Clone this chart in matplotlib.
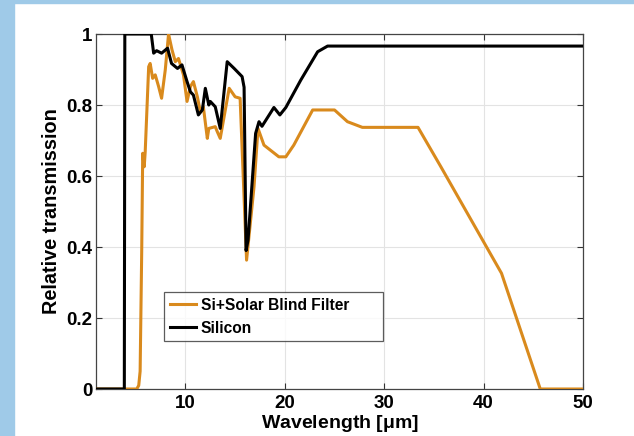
import matplotlib
matplotlib.use("Agg")
import matplotlib.pyplot as plt
from matplotlib.patches import Rectangle

# ── Data ──────────────────────────────────────────────────────────────────────
si_wl = [1.0, 3.85, 3.9, 6.56, 6.8, 7.1, 7.6, 8.2, 8.6, 9.2, 9.65, 10.16, 10.5,
         10.8, 11.3, 11.7, 12.0, 12.35, 12.5, 13.0, 13.5, 14.2, 14.9, 15.7,
         15.9, 16.1, 16.3, 17.06, 17.4, 17.7, 18.9, 19.5, 20.1, 21.6, 23.3,
         24.3, 50.0]
si_tr = [0.0, 0.0, 1.0, 1.0, 0.946, 0.953, 0.946, 0.96, 0.917, 0.903, 0.913,
         0.866, 0.837, 0.828, 0.772, 0.786, 0.847, 0.80, 0.81, 0.795, 0.734,
         0.922, 0.903, 0.88, 0.85, 0.39, 0.42, 0.72, 0.753, 0.74, 0.793,
         0.772, 0.793, 0.87, 0.95, 0.966, 0.966]

filt_wl = [1.0, 5.1, 5.3, 5.44, 5.6, 5.7, 5.85, 5.95, 6.3, 6.45, 6.7, 6.96, 7.3,
           7.6, 7.97, 8.3, 8.65, 8.98, 9.3, 9.8, 10.16, 10.5, 10.8, 11.2, 11.5,
           11.8, 12.2, 12.35, 13.0, 13.2, 13.5, 14.4, 15.0, 15.5, 16.15, 16.9,
           17.3, 17.9, 19.4, 20.1, 20.9, 22.8, 25.0, 26.3, 27.8, 33.4, 35.7,
           41.8, 45.7, 50.0]
filt_tr = [0.0, 0.0, 0.01, 0.05, 0.39, 0.664, 0.626, 0.668, 0.908, 0.917,
           0.875, 0.885, 0.852, 0.819, 0.899, 1.0, 0.955, 0.922, 0.931, 0.885,
           0.81, 0.852, 0.866, 0.823, 0.781, 0.795, 0.706, 0.734, 0.739, 0.725,
           0.706, 0.847, 0.823, 0.819, 0.363, 0.57, 0.734, 0.687, 0.654, 0.654,
           0.687, 0.786, 0.786, 0.753, 0.737, 0.737, 0.626, 0.326, 0.0, 0.0]

x_ticks = [10, 20, 30, 40, 50]
y_ticks = [0, 0.2, 0.4, 0.6, 0.8, 1.0]
y_tick_labels = ["0", "0.2", "0.4", "0.6", "0.8", "1"]

# ── Style ─────────────────────────────────────────────────────────────────────
COLOR_FILTER = "#D98A1D"
COLOR_SI     = "black"
COLOR_STRIP  = "#9FCAE8"
FONT_NAME    = "Liberation Sans"

plt.rcParams["font.family"] = FONT_NAME
plt.rcParams["font.weight"] = "bold"

fig = plt.figure(figsize=(6.34, 4.36), dpi=100)
fig.patches.append(Rectangle((0, 0), 14 / 634, 1, transform=fig.transFigure,
                             color=COLOR_STRIP, zorder=0))
fig.patches.append(Rectangle((0, 1 - 3 / 436), 1, 3 / 436, transform=fig.transFigure,
                             color=COLOR_STRIP, zorder=0))

ax = fig.add_axes([96 / 634, 47 / 436, 487 / 634, 355 / 436])

ax.plot(filt_wl, filt_tr, color=COLOR_FILTER, linewidth=2.2,
        label="Si+Solar Blind Filter", zorder=3)
ax.plot(si_wl, si_tr, color=COLOR_SI, linewidth=2.2, label="Silicon", zorder=4)

ax.set_xlim(1, 50)
ax.set_ylim(0, 1)
ax.set_xticks(x_ticks)
ax.set_yticks(y_ticks)
ax.set_yticklabels(y_tick_labels)
ax.tick_params(direction="in", top=True, right=True, length=4, width=0.8,
               labelsize=13.5, color="#333333", pad=2.5)
ax.tick_params(axis="x", pad=4)
for lbl in ax.get_xticklabels() + ax.get_yticklabels():
    lbl.set_fontweight("bold")
ax.grid(True, color="#e3e3e3", linewidth=0.8)
ax.set_axisbelow(True)
for sp in ax.spines.values():
    sp.set_color("#444444")
    sp.set_linewidth(0.9)

ax.set_xlabel("Wavelength [$\\mathregular{\\mu}$m]", fontsize=14, fontweight="bold",
              labelpad=1)
ax.set_ylabel("Relative transmission", fontsize=14.3, fontweight="bold", labelpad=4)

leg = ax.legend(loc="lower left", bbox_to_anchor=(0.14, 0.135, 0.45, 0.141),
                mode="expand", fontsize=11.2, frameon=True, fancybox=False,
                handlelength=1.7, handletextpad=0.3, borderaxespad=0,
                borderpad=0.35, labelspacing=0.5)
leg.get_frame().set_edgecolor("#333333")
leg.get_frame().set_linewidth(0.9)
for t in leg.get_texts():
    t.set_fontweight("bold")

fig.savefig("out.png", dpi=100, facecolor="white")
